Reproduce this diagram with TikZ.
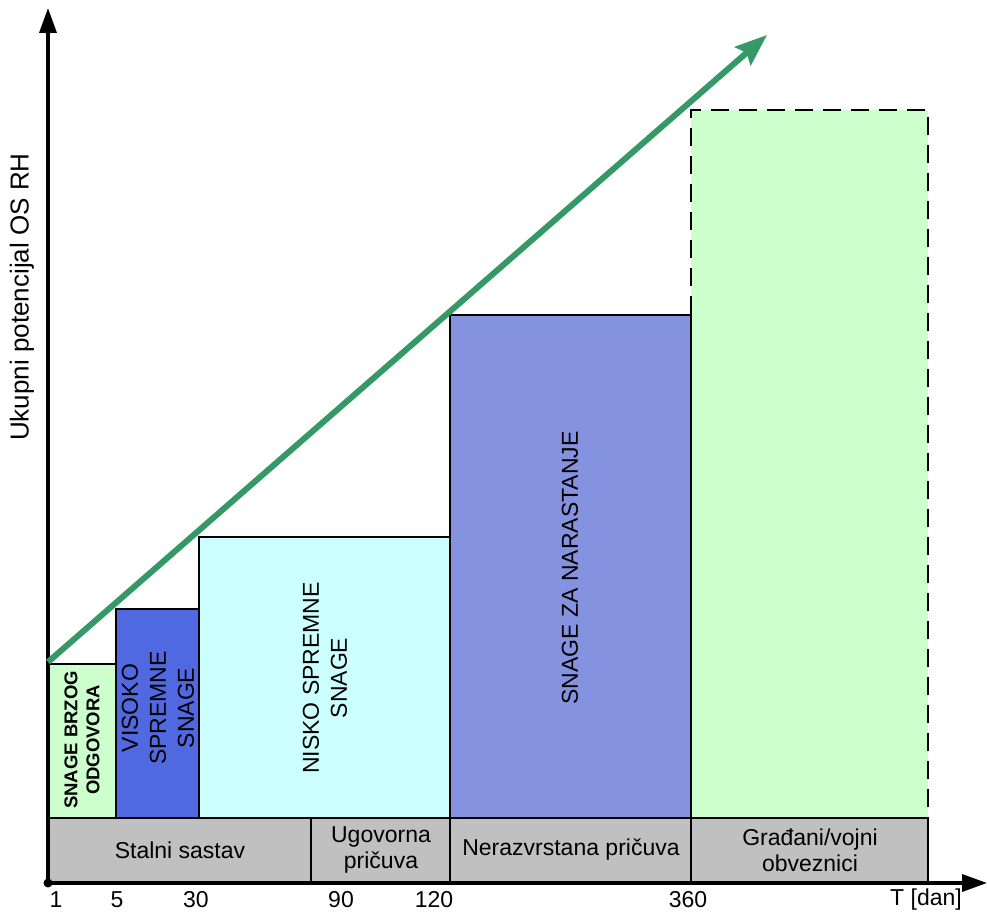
\documentclass[tikz,border=0pt]{standalone}
\usepackage{fontspec}
\setmainfont{Liberation Sans}
\usetikzlibrary{arrows.meta}
\definecolor{lgreen}{RGB}{204,255,204}
\definecolor{vblue}{RGB}{80,104,224}
\definecolor{lcyan}{RGB}{204,255,255}
\definecolor{pblue}{RGB}{132,146,224}
\definecolor{bandgray}{RGB}{192,192,192}
\definecolor{trend}{RGB}{52,153,102}
\begin{document}
\begin{tikzpicture}[x=1pt,y=1pt,
  box/.style={draw=black,line width=2pt},
  lbl/.style={font=\fontsize{23}{26}\selectfont,align=center,inner sep=0pt},
  rlbl/.style={font=\fontsize{23}{28}\selectfont,align=center,inner sep=0pt,rotate=90},
  blbl/.style={font=\fontsize{18.5}{22}\selectfont\bfseries,align=center,inner sep=0pt,rotate=90},
  axis/.style={line width=3.5pt,-{Triangle[length=25pt,width=17pt]}}]
\useasboundingbox (0,0) rectangle (987,911);
% large dashed box
\fill[lgreen] (691,93) rectangle (928,801);
\draw[line width=2pt,dash pattern=on 18pt off 10pt] (691,93) -- (691,801) -- (928,801) -- (928,93);
% force boxes
\draw[box,fill=lgreen] (48,93) rectangle (116,247);
\draw[box,fill=vblue] (116,93) rectangle (199,302);
\draw[box,fill=lcyan] (199,93) rectangle (450,374);
\draw[box,fill=pblue] (450,93) rectangle (691,596);
% band
\draw[box,fill=bandgray] (48,28) rectangle (311,93);
\draw[box,fill=bandgray] (311,28) rectangle (450,93);
\draw[box,fill=bandgray] (450,28) rectangle (691,93);
\draw[box,fill=bandgray] (691,28) rectangle (928,93);
% texts in boxes
\node[blbl] (brzog) at (82,171) {SNAGE BRZOG\\ODGOVORA};
\node[rlbl] (visoko) at (158,203) {VISOKO\\SPREMNE\\SNAGE};
\node[rlbl] (nisko) at (325,233) {NISKO SPREMNE\\SNAGE};
\node[rlbl] (narast) at (570,343) {SNAGE ZA NARASTANJE};
% band texts
\node[lbl] (stalni) at (180,61) {Stalni sastav};
\node[lbl] (ugov) at (381,61) {Ugovorna\\pričuva};
\node[lbl] (neraz) at (571,61) {Nerazvrstana pričuva};
\node[lbl] (gradj) at (810,61) {Građani/vojni\\obveznici};
% axes
\coordinate (O) at (48,28);
\coordinate (ytop) at (48,903);
\coordinate (xend) at (987,28);
\draw[axis] (O) -- (ytop);
\draw[axis] (O) -- (xend);
\fill (O) circle (4.5);
\node[lbl,rotate=90,font=\fontsize{26}{30}\selectfont] (ylab) at (22,614) {Ukupni potencijal OS RH};
% ticks
\node[lbl] (t1) at (56,11) {1};
\node[lbl] (t5) at (117,11) {5};
\node[lbl] (t30) at (196,11) {30};
\node[lbl] (t90) at (341,11) {90};
\node[lbl] (t120) at (434,11) {120};
\node[lbl] (t360) at (688,11) {360};
\node[lbl] (tdan) at (926,11) {T [dan]};
% trend arrow
\coordinate (ts) at (48,249);
\coordinate (te) at (767,876);
\draw[trend,line width=6pt,-{Stealth[length=32pt,width=24pt,inset=5pt]}] (ts) -- (te);
\end{tikzpicture}
\end{document}
